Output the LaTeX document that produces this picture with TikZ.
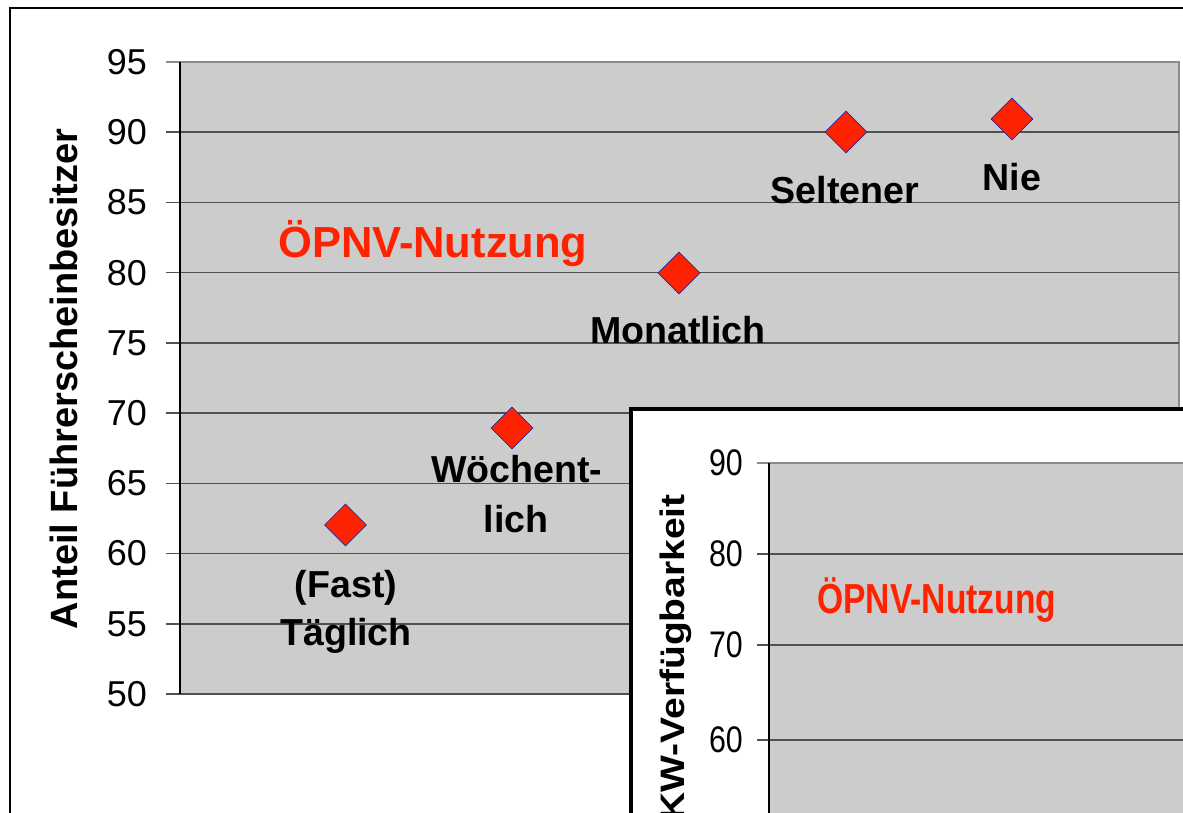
\documentclass[tikz,border=0pt]{standalone}
\usepackage{fontspec}
\setmainfont{Liberation Sans}
\usetikzlibrary{shapes.geometric}
\definecolor{plotgray}{HTML}{CCCCCC}
\definecolor{gridc}{HTML}{505050}
\definecolor{bordc}{HTML}{8A8A8A}
\definecolor{ptred}{HTML}{FF2200}
\definecolor{ptedge}{HTML}{2828A0}
\begin{document}
\begin{tikzpicture}[x=1pt,y=-1pt,
  ticklab/.style={inner sep=0pt, anchor=east, font=\fontsize{36}{36}\selectfont},
  insettick/.style={inner sep=0pt, anchor=east, font=\fontsize{37}{37}\selectfont},
  lab/.style={inner sep=0pt, font=\bfseries\fontsize{37.6}{37.6}\selectfont},
  ttl/.style={inner sep=0pt, text=ptred, font=\bfseries\fontsize{43.5}{43.5}\selectfont},
  axt/.style={inner sep=0pt, rotate=90, font=\bfseries\fontsize{38}{38}\selectfont},
  marker/.style={diamond, fill=ptred, draw=ptedge, line width=0.6pt, minimum width=42pt, minimum height=42pt, inner sep=0pt},
  grid/.style={draw=gridc, line width=1.4pt},
  frame/.style={draw=black, line width=2.6pt}]
\useasboundingbox (0,0) rectangle (1183,813);
\clip (0,0) rectangle (1183,813);
\fill[white] (0,0) rectangle (1183,813);
% outer chart frame
\draw[frame] (10,1000) -- (10,8) -- (1300,8);
% main plot area
\fill[plotgray] (180,62) rectangle (1179,694);
\draw[bordc, line width=1.4pt] (166,62) -- (1179,62) -- (1179,694);
\foreach \v/\yy in {90/132.2, 85/202.4, 80/272.7, 75/342.9, 70/413.1, 65/483.3, 60/553.6, 55/623.8, 50/694}{
  \draw[grid] (166,\yy) -- (1179,\yy);
}
\draw[black, line width=1.2pt] (180,62) -- (180,694);
% tick labels
\node[ticklab] (t95) at (147,62) {95};
\node[ticklab] (t90) at (147,132.2) {90};
\node[ticklab] (t85) at (147,202.4) {85};
\node[ticklab] (t80) at (147,272.7) {80};
\node[ticklab] (t75) at (147,342.9) {75};
\node[ticklab] (t70) at (147,413.1) {70};
\node[ticklab] (t65) at (147,483.3) {65};
\node[ticklab] (t60) at (147,553.6) {60};
\node[ticklab] (t55) at (147,623.8) {55};
\node[ticklab] (t50) at (147,694) {50};
% axis title
\node[axt, anchor=base] (ytitle) at (77,379) {Anteil Führerscheinbesitzer};
% main title
\node[ttl, anchor=base west] (title) at (278,258) {ÖPNV-Nutzung};
% data points
\node[marker] (p1) at (345.5,525) {};
\node[marker] (p2) at (512,428) {};
\node[marker] (p3) at (679,273) {};
\node[marker] (p4) at (846,132) {};
\node[marker] (p5) at (1012,119) {};
% data labels
\node[lab, anchor=base] (l1a) at (346,597) {(Fast)};
\node[lab, anchor=base] (l1b) at (346,645) {Täglich};
\node[lab, anchor=base west] (l2a) at (431,482) {Wöchent-};
\node[lab, anchor=base] (l2b) at (516,532) {lich};
\node[lab, anchor=base] (l3) at (678,343) {Monatlich};
\node[lab, anchor=base] (l4) at (845,204) {Seltener};
\node[lab, anchor=base] (l5) at (1012,191) {Nie};
% inset chart
\filldraw[fill=white, draw=black, line width=4pt] (631,409) rectangle (1300,1000);
\fill[plotgray] (769,463) rectangle (1300,1000);
\draw[bordc, line width=1.4pt] (757,463) -- (1300,463);
\foreach \yy in {554, 645, 740}{
  \draw[grid] (757,\yy) -- (1300,\yy);
}
\draw[black, line width=1.2pt] (769,463) -- (769,1000);
\node[insettick] (i90) at (743,463) {\scalebox{0.82}[1]{90}};
\node[insettick] (i80) at (743,554) {\scalebox{0.82}[1]{80}};
\node[insettick] (i70) at (743,645) {\scalebox{0.82}[1]{70}};
\node[insettick] (i60) at (743,740) {\scalebox{0.82}[1]{60}};
\node[axt, anchor=base east, font=\bfseries\fontsize{39}{39}\selectfont] (ititle) at (684,494) {\scalebox{1}[0.87]{KW-Verfügbarkeit}};
\node[ttl, anchor=base west, font=\bfseries\fontsize{42}{42}\selectfont] (ilabel) at (817,613) {\scalebox{0.8}[1]{ÖPNV-Nutzung}};
\end{tikzpicture}
\end{document}
